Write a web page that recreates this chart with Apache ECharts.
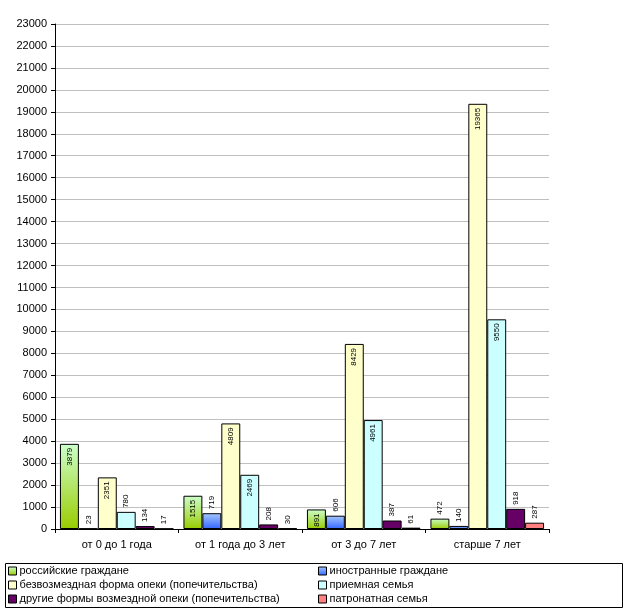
<!DOCTYPE html>
<html>
<head>
<meta charset="utf-8">
<script src="https://cdn.jsdelivr.net/npm/echarts@6/dist/echarts.min.js"></script>
<style>html,body{margin:0;padding:0;background:#fff;}#c{width:627px;height:616px;}</style>
</head>
<body>
<div id="c"></div>
<script>
const categories = ['от 0 до 1 года', 'от 1 года до 3 лет', 'от 3 до 7 лет', 'старше 7 лет'];
const seriesNames = ['российские граждане', 'иностранные граждане', 'безвозмездная форма опеки (попечительства)', 'приемная семья', 'другие формы возмездной опеки (попечительства)', 'патронатная семья'];
const russian = [3879, 1515, 891, 472];
const foreign = [23, 719, 606, 140];
const freeGuardianship = [2351, 4809, 8429, 19365];
const fosterFamily = [780, 2469, 4961, 9550];
const otherPaid = [134, 208, 387, 918];
const patronage = [17, 30, 61, 287];
const yTicks = [0, 23000, 1000];

const values = [russian, foreign, freeGuardianship, fosterFamily, otherPaid, patronage];
const colors = [
  new echarts.graphic.LinearGradient(0,0,0,1,[{offset:0,color:'#ccffcc'},{offset:1,color:'#99cc00'}]),
  new echarts.graphic.LinearGradient(0,0,0,1,[{offset:0,color:'#a6c8ff'},{offset:1,color:'#3366ff'}]),
  '#ffffcc', '#ccffff', '#660066', '#ff8080'
];
const legendColors = ['#99cc00', '#3366ff', '#ffffcc', '#ccffff', '#660066', '#ff8080'];
const insideCapable = [true, false, true, true, false, false];

const labelFont = {fontFamily: 'Liberation Sans, Arial, sans-serif', fontSize: 8, color: '#000'};

const series = values.map((arr, si) => ({
  name: seriesNames[si],
  type: 'bar',
  barGap: '0%',
  barCategoryGap: '8%',
  itemStyle: {color: colors[si], borderColor: '#000', borderWidth: 1},
  data: arr.map(v => {
    const inside = insideCapable[si] && v > 800;
    return {
      value: v,
      label: inside
        ? Object.assign({show: true, position: 'insideTop', rotate: 90, align: 'right', verticalAlign: 'middle', distance: 4}, labelFont)
        : Object.assign({show: true, position: 'top', rotate: 90, align: 'left', verticalAlign: 'middle', distance: 4}, labelFont)
    };
  })
}));

const chart = echarts.init(document.getElementById('c'), null, {renderer: 'canvas'});
chart.setOption({
  animation: false,
  backgroundColor: '#fff',
  color: legendColors,
  grid: {left: 55, right: 78, top: 24, bottom: 87, containLabel: false},
  xAxis: {
    type: 'category',
    data: categories,
    axisLine: {lineStyle: {color: '#000', width: 1}},
    axisTick: {show: true, length: 4, lineStyle: {color: '#000'}, alignWithLabel: false},
    axisLabel: {color: '#000', fontSize: 11, fontFamily: 'Liberation Sans, Arial, sans-serif', margin: 10}
  },
  yAxis: {
    type: 'value',
    min: yTicks[0], max: yTicks[1], interval: yTicks[2],
    axisLine: {show: true, lineStyle: {color: '#000', width: 1}},
    axisTick: {show: true, length: 4, lineStyle: {color: '#000'}},
    splitLine: {lineStyle: {color: '#c0c0c0', width: 1}},
    axisLabel: {color: '#000', fontSize: 11, fontFamily: 'Liberation Sans, Arial, sans-serif', margin: 8, formatter: v => String(v)}
  },
  legend: [
    {
      orient: 'vertical', left: 8, top: 565, itemGap: 2, itemWidth: 8, itemHeight: 8,
      data: [seriesNames[0], seriesNames[2], seriesNames[4]],
      icon: 'rect',
      itemStyle: {borderColor: '#000', borderWidth: 1},
      textStyle: {color: '#000', fontSize: 11, fontFamily: 'Liberation Sans, Arial, sans-serif', padding: [0,0,0,-2], lineHeight: 12},
      padding: 0
    },
    {
      orient: 'vertical', left: 318, top: 565, itemGap: 2, itemWidth: 8, itemHeight: 8,
      data: [seriesNames[1], seriesNames[3], seriesNames[5]],
      icon: 'rect',
      itemStyle: {borderColor: '#000', borderWidth: 1},
      textStyle: {color: '#000', fontSize: 11, fontFamily: 'Liberation Sans, Arial, sans-serif', padding: [0,0,0,-2], lineHeight: 12},
      padding: 0
    }
  ],
  graphic: [{
    type: 'rect', left: 5, top: 563, z: -1,
    shape: {width: 617, height: 44},
    style: {fill: '#fff', stroke: '#000', lineWidth: 1}
  }],
  series: series
});
</script>
</body>
</html>
